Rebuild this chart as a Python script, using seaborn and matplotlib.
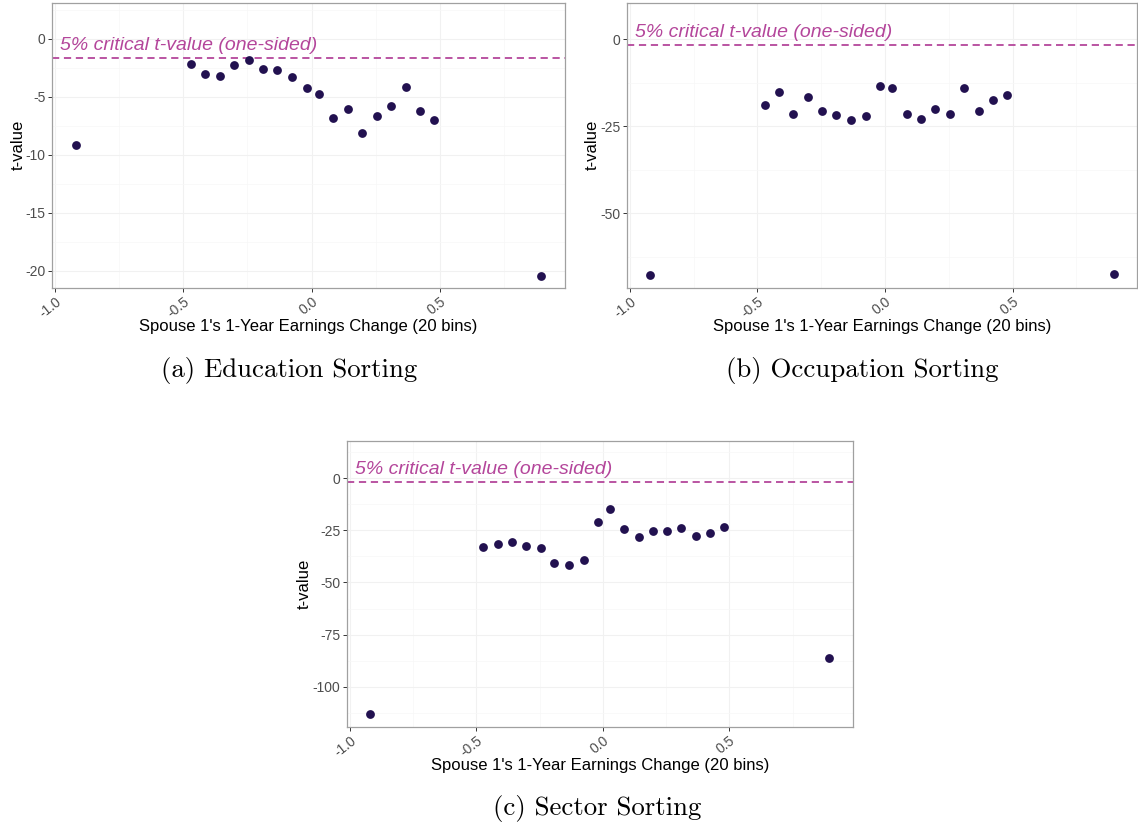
import numpy as np
import pandas as pd
import matplotlib
matplotlib.use("Agg")
import matplotlib.pyplot as plt
import seaborn as sns
from matplotlib.ticker import FixedLocator, FixedFormatter

# ---------------- data ----------------
bin_x = [-0.92, -0.472, -0.414, -0.359, -0.302, -0.246, -0.191, -0.134, -0.076, -0.019,
         0.027, 0.085, 0.142, 0.197, 0.254, 0.310, 0.367, 0.422, 0.479, 0.896]
t_education = [-9.16, -2.16, -3.00, -3.20, -2.22, -1.84, -2.56, -2.65, -3.29, -4.24,
               -4.78, -6.83, -6.05, -8.13, -6.69, -5.76, -4.18, -6.22, -6.97, -20.43]
t_occupation = [-67.8, -19.0, -15.3, -21.4, -16.5, -20.6, -21.9, -23.2, -22.1, -13.4,
                -14.1, -21.4, -23.0, -20.1, -21.5, -14.0, -20.6, -17.4, -16.1, -67.4]
t_sector = [-113.3, -33.0, -31.7, -30.7, -32.5, -33.4, -40.8, -41.6, -39.0, -21.1,
            -14.6, -24.2, -28.3, -25.3, -25.1, -23.7, -27.7, -26.1, -23.4, -86.2]
critical_t = -1.645
x_ticks = [-1.0, -0.5, 0.0, 0.5]
x_tick_labels = ["-1.0", "-0.5", "0.0", "0.5"]
y_ticks_education = [0, -5, -10, -15, -20]
y_ticks_occupation = [0, -25, -50]
y_ticks_sector = [0, -25, -50, -75, -100]
captions = ["(a) Education Sorting", "(b) Occupation Sorting", "(c) Sector Sorting"]
annotation = "5% critical t-value (one-sided)"
x_label = "Spouse 1's 1-Year Earnings Change (20 bins)"
y_label = "t-value"

# ---------------- style ----------------
sns.set_theme(style="white")
plt.rcParams["font.family"] = ["Liberation Sans", "DejaVu Sans"]
plt.rcParams["axes.unicode_minus"] = False

POINT_COLOR = "#221150"
LINE_COLOR = "#B4469B"
GRID_MAJOR = "#F1F1F1"
GRID_MINOR = "#F7F7F7"

fig = plt.figure(figsize=(11.38, 8.27), dpi=100)
W, H = 1138, 827


def axes_px(left, top, right, bottom):
    return fig.add_axes([left / W, 1 - bottom / H, (right - left) / W, (bottom - top) / H])


panels = [
    dict(vals=t_education, yticks=y_ticks_education, ylim=(-21.47, 3.13),
         box=(52.3, 2.7, 565.0, 287.7), cap_pos=(289, 370), ylab_off=34.0),
    dict(vals=t_occupation, yticks=y_ticks_occupation, ylim=(-71.4, 10.5),
         box=(627.1, 2.7, 1137.0, 287.7), cap_pos=(862, 370), ylab_off=34.5),
    dict(vals=t_sector, yticks=y_ticks_sector, ylim=(-119.2, 17.9),
         box=(347.1, 441.0, 852.7, 726.7), cap_pos=(597, 808), ylab_off=42.5),
]

for p, cap_text in zip(panels, captions):
    ax = axes_px(*p["box"])
    left, top, right, bottom = p["box"]
    wpx, hpx = right - left, bottom - top
    df = pd.DataFrame({"x": bin_x, "t": p["vals"]})
    ax.set_xlim(-1.011, 0.988)
    ax.set_ylim(*p["ylim"])

    yt = p["yticks"]
    step = yt[0] - yt[1]
    minor_y = [v + step / 2 for v in yt] + [yt[-1] - step / 2]
    ax.yaxis.set_major_locator(FixedLocator(yt))
    ax.yaxis.set_major_formatter(FixedFormatter([str(v) for v in yt]))
    ax.yaxis.set_minor_locator(FixedLocator(minor_y))
    ax.xaxis.set_major_locator(FixedLocator(x_ticks))
    ax.xaxis.set_major_formatter(FixedFormatter(x_tick_labels))
    ax.xaxis.set_minor_locator(FixedLocator([-0.75, -0.25, 0.25, 0.75]))
    ax.grid(True, which="major", color=GRID_MAJOR, linewidth=0.8)
    ax.grid(True, which="minor", color=GRID_MINOR, linewidth=0.5)
    ax.set_axisbelow(True)

    ax.axhline(critical_t, color=LINE_COLOR, linewidth=1.3, linestyle=(0, (4, 2.6)), zorder=2)
    sns.scatterplot(data=df, x="x", y="t", ax=ax, color=POINT_COLOR, s=40,
                    edgecolor=POINT_COLOR, linewidth=0, zorder=3, legend=False)
    ax.annotate(annotation, xy=(-0.98, critical_t), xytext=(0, 5.5),
                textcoords="offset points", ha="left", va="baseline",
                fontsize=14, fontstyle="italic", color=LINE_COLOR)

    for s in ax.spines.values():
        s.set_visible(True)
        s.set_color("#A0A0A0")
        s.set_linewidth(0.9)

    ax.tick_params(axis="both", which="major", length=3, width=0.7, color="#333333",
                   labelcolor="#4D4D4D", labelsize=10, pad=2, bottom=True, left=True)
    ax.tick_params(axis="both", which="minor", length=0, bottom=False, left=False)
    for lab in ax.get_xticklabels():
        lab.set_rotation(38)
        lab.set_ha("right")
        lab.set_rotation_mode("anchor")
    ax.set_xlabel(x_label, fontsize=12, color="black")
    ax.set_ylabel(y_label, fontsize=12, color="black")
    ax.xaxis.set_label_coords(0.5, -38.5 / hpx)
    ax.xaxis.label.set_va("center")
    ax.yaxis.set_label_coords(-p["ylab_off"] / wpx, 0.5)
    ax.yaxis.label.set_va("center")

    cx, cy = p["cap_pos"]
    fig.text(cx / W, 1 - cy / H, cap_text, ha="center", va="center",
             fontsize=19.3, family="cmr10", color="black")

fig.savefig("out.png", dpi=100)
